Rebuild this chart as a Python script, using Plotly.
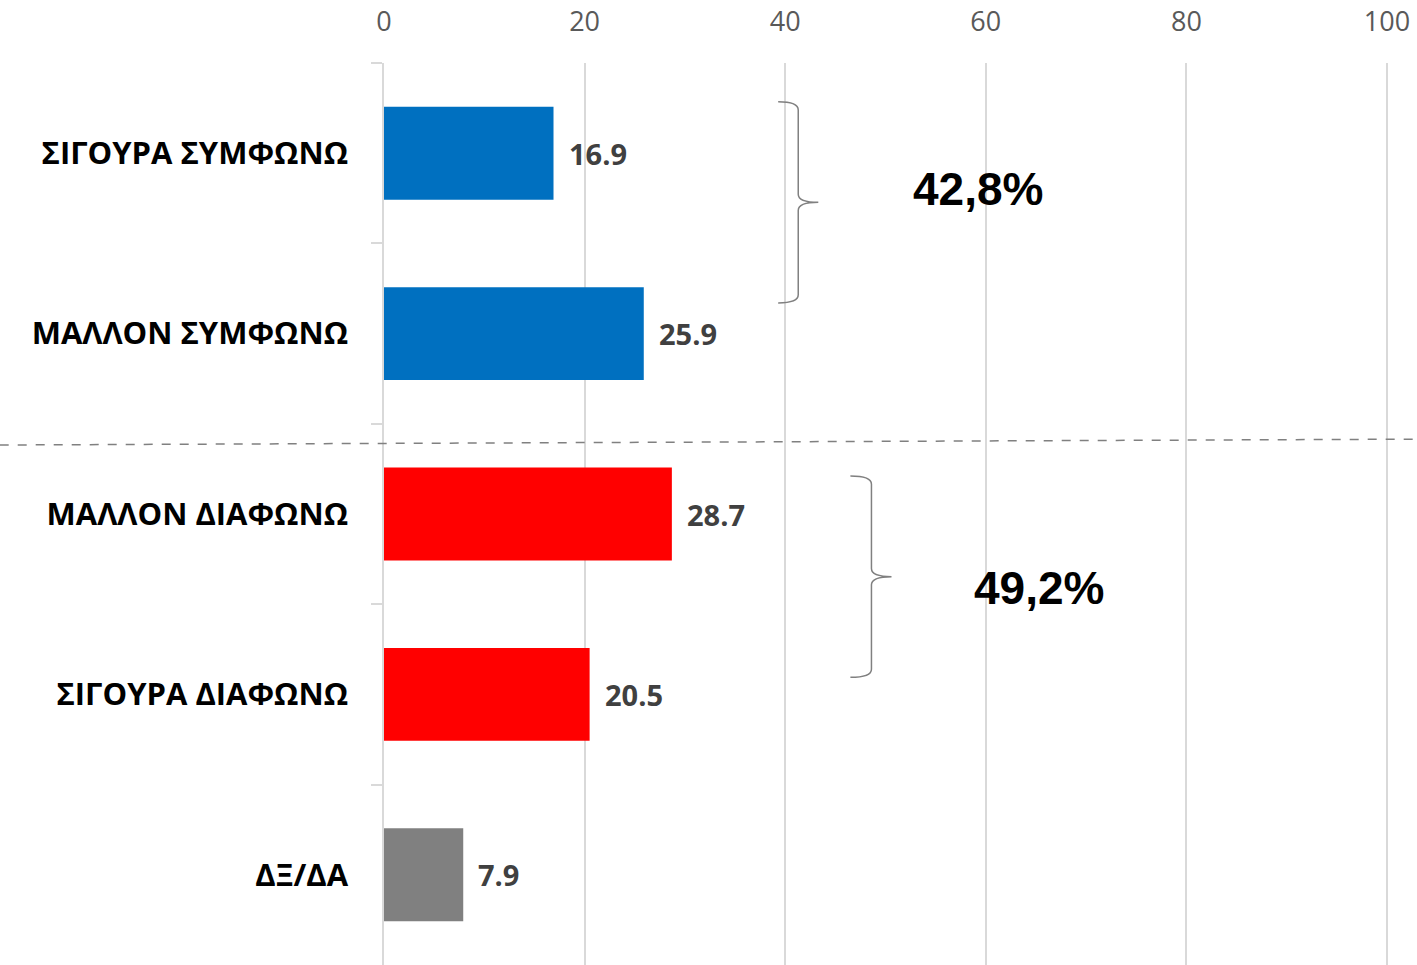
import plotly.graph_objects as go

categories = ["ΣΙΓΟΥΡΑ ΣΥΜΦΩΝΩ", "ΜΑΛΛΟΝ ΣΥΜΦΩΝΩ", "ΜΑΛΛΟΝ ΔΙΑΦΩΝΩ",
              "ΣΙΓΟΥΡΑ ΔΙΑΦΩΝΩ", "ΔΞ/ΔΑ"]
values = [16.9, 25.9, 28.7, 20.5, 7.9]
colors = ["#0070C0", "#0070C0", "#FF0000", "#FF0000", "#808080"]
x_ticks = [0, 20, 40, 60, 80, 100]
group_totals = ["42,8%", "49,2%"]

fig = go.Figure(go.Bar(
    x=values, y=categories, orientation="h",
    marker=dict(color=colors, line=dict(width=0)),
    hoverinfo="skip"))

# value labels next to bars
for cat, v in zip(categories, values):
    fig.add_annotation(x=v, y=cat, text=f"{v:.1f}", showarrow=False,
                       xanchor="left", xshift=13,
                       font=dict(family="Open Sans", size=29, color="#404040",
                                 weight="bold"))

# group totals
fig.add_annotation(x=59.2, y=0.2, text=group_totals[0], showarrow=False,
                   font=dict(family="Liberation Sans", size=46, color="black",
                             weight="bold"))
fig.add_annotation(x=65.3, y=2.41, text=group_totals[1], showarrow=False,
                   font=dict(family="Liberation Sans", size=46, color="black",
                             weight="bold"))


def brace(x_left, x_spine, x_tip, y_top, y_bot, r=0.009):
    y_mid = (y_top + y_bot) / 2
    return (f"M {x_left} {y_top} Q {x_spine} {y_top} {x_spine} {y_top - r} "
            f"L {x_spine} {y_mid + r} Q {x_spine} {y_mid} {x_tip} {y_mid} "
            f"Q {x_spine} {y_mid} {x_spine} {y_mid - r} "
            f"L {x_spine} {y_bot + r} Q {x_spine} {y_bot} {x_left} {y_bot}")


brace_style = dict(type="path", xref="x", yref="paper",
                   line=dict(color="#808080", width=1.5))
fig.add_shape(path=brace(39.3, 41.3, 43.3, 0.957, 0.734), **brace_style)
fig.add_shape(path=brace(46.5, 48.6, 50.6, 0.542, 0.319), **brace_style)

# dashed separator
fig.add_shape(type="line", xref="paper", yref="paper",
              x0=-0.382, y0=0.5765, x1=1.03, y1=0.583,
              line=dict(color="#808080", width=1.5, dash="dash"))

# range padded a little so the gridline at 100 is still drawn
fig.update_xaxes(range=[0, 100.3], side="top", tickvals=x_ticks,
                 showgrid=True, gridcolor="#D9D9D9", gridwidth=1.5,
                 zeroline=False, showline=False, ticks="",
                 ticklabelstandoff=26, automargin=False,
                 tickfont=dict(family="Open Sans", size=27, color="#595959"))
fig.update_yaxes(autorange="reversed", showline=True, linecolor="#D9D9D9",
                 linewidth=1.5, ticks="outside", tickson="boundaries",
                 ticklen=11, tickcolor="#D9D9D9", tickwidth=1.5,
                 ticklabelstandoff=28, automargin=False,
                 tickfont=dict(family="Open Sans", size=31, color="black",
                               weight="bold"))

fig.update_layout(width=1417, height=965, bargap=0.485,
                  margin=dict(l=384, r=27, t=63, b=0),
                  plot_bgcolor="white", paper_bgcolor="white",
                  showlegend=False)

# drop the default 8px body margin so the figure fills the window
fig.write_html("out.html", config={"displayModeBar": False},
               post_script="document.body.style.margin = '0';")
